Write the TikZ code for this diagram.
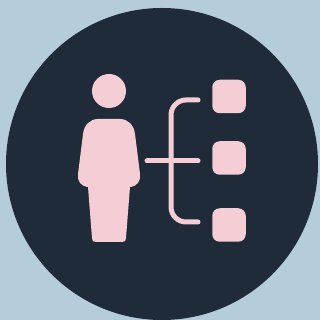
\documentclass[tikz,border=0pt]{standalone}
\definecolor{skyback}{HTML}{B5CCDB}
\definecolor{navydisc}{HTML}{1F2B38}
\definecolor{softpink}{HTML}{F5CDD5}
\tikzset{
    person/.style={fill=softpink,draw=none},
    itembox/.style={fill=softpink,draw=none,rounded corners=0.75cm,minimum size=3.35cm,inner sep=0pt},
    branch/.style={draw=softpink,line width=0.5cm,line cap=round,rounded corners=1.5cm}
}

\begin{document}
\begin{tikzpicture}[scale=0.1]
    \useasboundingbox (0,0) rectangle (320,320);
    \fill[skyback] (0,0) rectangle (320,320);
    \fill[navydisc] (162,156) circle (156);

    % person
    \node[person,circle,minimum size=3.4cm,inner sep=0pt] (head) at (109,229) {};
    \fill[person] (92,82) -- (88,133) -- (87,133)
        .. controls (81,134) and (77,139) .. (78,146)
        -- (83,186) .. controls (84,195) and (90,201) .. (98,201)
        -- (120,201) .. controls (128,201) and (134,195) .. (135,186)
        -- (140,146) .. controls (141,139) and (137,134) .. (131,133)
        -- (130,133) -- (126,82) .. controls (126,79) and (125,78) .. (122,78)
        -- (96,78) .. controls (93,78) and (92,79) .. (92,82) -- cycle;

    % boxes on the right
    \foreach \name/\y in {top/223.5,mid/162,low/95} {
        \node[itembox] (item\name) at (229,\y) {};
    }

    % bracket
    \coordinate (stemleft) at (147,159);
    \coordinate (stemright) at (198,159);
    \coordinate (armtop) at (198,220);
    \coordinate (armlow) at (198,98);
    \coordinate (spine) at (171,159);
    \draw[branch] (stemleft) -- (stemright);
    \draw[branch] (armtop) -| (spine) |- (armlow);
\end{tikzpicture}
\end{document}
